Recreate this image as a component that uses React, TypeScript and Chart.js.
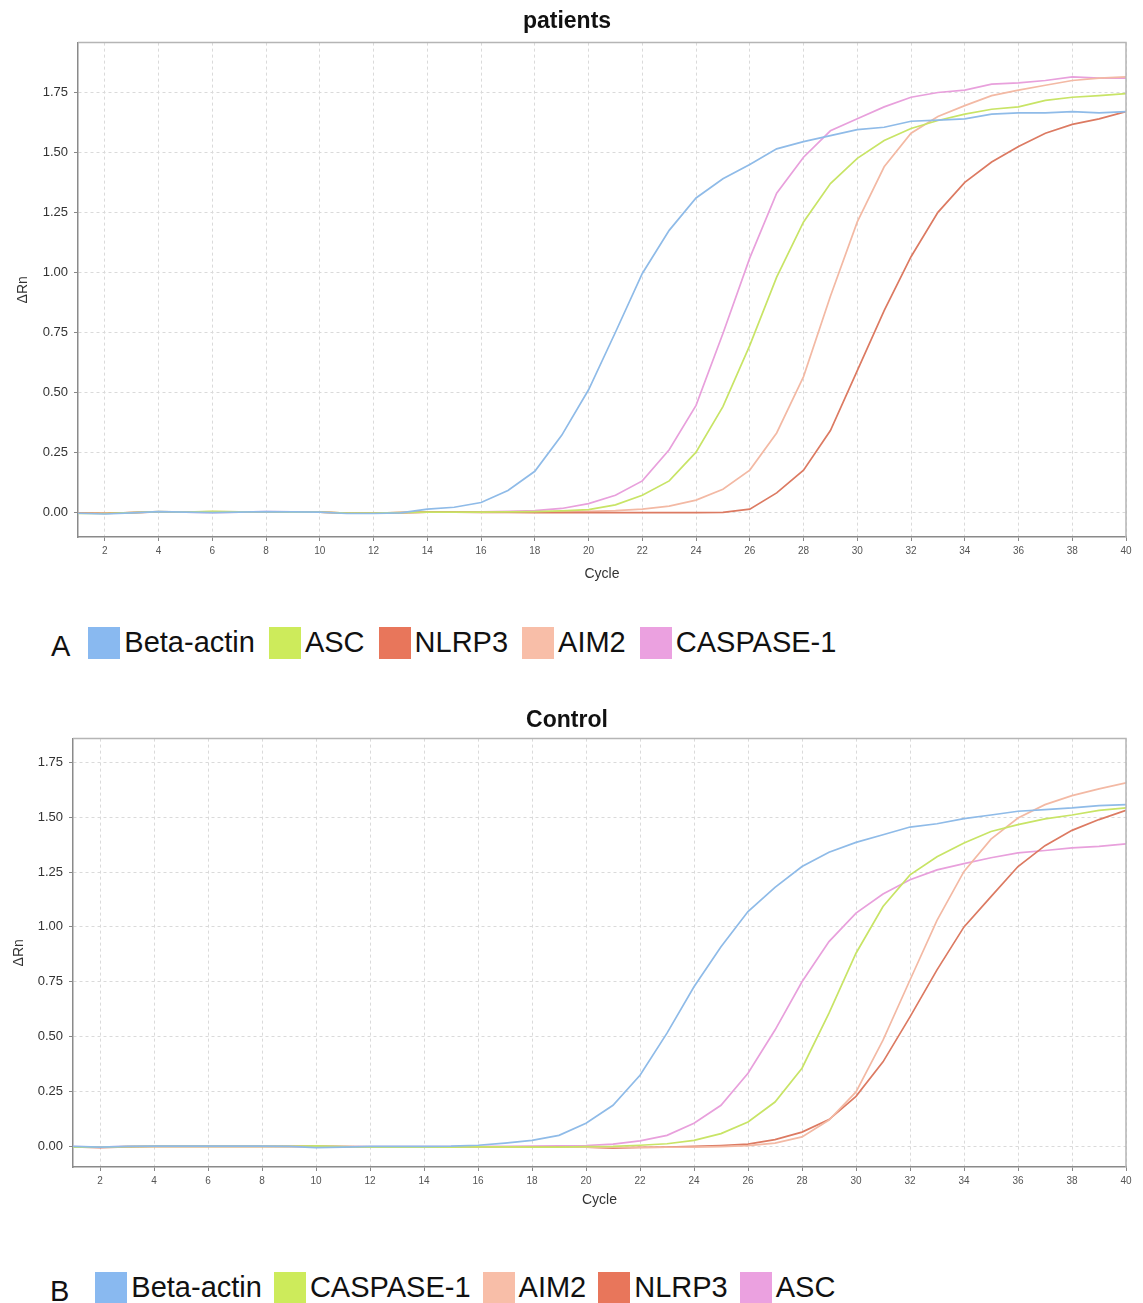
import React, { useEffect, useRef } from "react";
import { Chart, registerables } from "chart.js";

Chart.register(...registerables);

// ---------- data ----------
const cycles = [
  1, 2, 3, 4, 5, 6, 7, 8, 9, 10, 11, 12, 13, 14, 15, 16, 17, 18, 19, 20,
  21, 22, 23, 24, 25, 26, 27, 28, 29, 30, 31, 32, 33, 34, 35, 36, 37, 38, 39, 40,
];
const xTickValues = [2, 4, 6, 8, 10, 12, 14, 16, 18, 20, 22, 24, 26, 28, 30, 32, 34, 36, 38, 40];
const yTickValues = [0, 0.25, 0.5, 0.75, 1.0, 1.25, 1.5, 1.75];

const patientsTitle = "patients";
const controlTitle = "Control";
const xAxisTitle = "Cycle";
const yAxisTitle = "ΔRn";

// Patients (A)
const patientsLabels = ["Beta-actin", "ASC", "NLRP3", "AIM2", "CASPASE-1"];
const patientsBeta = [
  -0.005, -0.008, -0.003, 0.002, 0.0, -0.002, 0.0, 0.002, 0.001, 0.0,
  -0.006, -0.006, -0.003, 0.012, 0.02, 0.04, 0.09, 0.17, 0.32, 0.51,
  0.75, 0.995, 1.175, 1.31, 1.39, 1.45, 1.515, 1.545, 1.57, 1.595,
  1.605, 1.63, 1.635, 1.64, 1.66, 1.665, 1.665, 1.67, 1.665, 1.67,
];
const patientsAsc = [
  -0.006, -0.006, -0.002, 0.002, 0.0, 0.003, 0.001, 0.001, 0.0, 0.0,
  -0.004, -0.004, -0.002, 0.0, 0.0, 0.0, 0.001, 0.002, 0.005, 0.01,
  0.03, 0.07, 0.13, 0.25, 0.44, 0.695, 0.98, 1.21, 1.37, 1.475,
  1.55, 1.6, 1.633, 1.66, 1.68, 1.69, 1.717, 1.73, 1.737, 1.745,
];
const patientsNlrp3 = [
  -0.004, -0.005, -0.002, 0.001, 0.0, 0.001, 0.001, 0.001, 0.0, 0.0,
  -0.004, -0.004, -0.002, 0.0, 0.0, -0.001, -0.001, -0.002, -0.002, -0.002,
  -0.002, -0.002, -0.002, -0.002, -0.001, 0.012, 0.08, 0.175, 0.34, 0.59,
  0.84, 1.065, 1.25, 1.375, 1.46, 1.525, 1.58, 1.617, 1.64, 1.67,
];
const patientsAim2 = [
  -0.004, -0.005, -0.002, 0.001, 0.0, 0.002, 0.001, 0.001, 0.0, 0.0,
  -0.004, -0.004, -0.002, 0.0, 0.0, 0.0, 0.0, 0.001, 0.002, 0.003,
  0.006, 0.012, 0.025, 0.05, 0.095, 0.175, 0.33, 0.565, 0.9, 1.21,
  1.44, 1.58, 1.65, 1.695, 1.737, 1.76, 1.78, 1.8, 1.81, 1.815,
];
const patientsCasp = [
  -0.004, -0.006, -0.002, 0.002, 0.0, -0.002, 0.0, 0.002, 0.001, 0.0,
  -0.005, -0.005, -0.002, 0.0, 0.0, 0.001, 0.003, 0.006, 0.015, 0.035,
  0.07, 0.13, 0.26, 0.445, 0.745, 1.06, 1.33, 1.48, 1.59, 1.64,
  1.69, 1.73, 1.75, 1.76, 1.785, 1.79, 1.8, 1.815, 1.81, 1.81,
];

// Control (B)
const controlLabels = ["Beta-actin", "CASPASE-1", "AIM2", "NLRP3", "ASC"];
const controlBeta = [
  0.0, -0.003, 0.0, 0.001, 0.001, 0.001, 0.001, 0.001, 0.0, -0.006,
  -0.003, 0.0, 0.0, 0.0, 0.001, 0.005, 0.015, 0.027, 0.05, 0.105,
  0.187, 0.324, 0.516, 0.727, 0.91, 1.07, 1.18, 1.275, 1.34, 1.385,
  1.42, 1.455, 1.47, 1.493, 1.51, 1.527, 1.534, 1.542, 1.553, 1.557,
];
const controlCasp = [
  -0.003, -0.004, -0.001, 0.0, 0.0, 0.0, 0.0, 0.0, 0.0, 0.002,
  -0.001, -0.003, -0.004, -0.004, -0.003, -0.002, -0.002, -0.003, -0.003, -0.001,
  0.0, 0.005, 0.012, 0.027, 0.058, 0.111, 0.202, 0.356, 0.607, 0.88,
  1.093, 1.237, 1.32, 1.382, 1.435, 1.466, 1.492, 1.51, 1.531, 1.542,
];
const controlAim2 = [
  -0.002, -0.004, -0.001, 0.0, 0.0, 0.0, 0.0, 0.0, 0.0, 0.0,
  -0.001, -0.002, -0.002, -0.002, -0.002, -0.002, -0.003, -0.004, -0.004, -0.004,
  -0.005, -0.005, -0.004, -0.003, -0.001, 0.003, 0.015, 0.043, 0.12, 0.248,
  0.484, 0.758, 1.03, 1.253, 1.4, 1.496, 1.557, 1.598, 1.629, 1.656,
];
const controlNlrp3 = [
  -0.002, -0.006, -0.002, 0.0, 0.0, 0.0, 0.0, 0.0, 0.0, 0.0,
  -0.001, -0.002, -0.002, -0.002, -0.002, -0.002, -0.003, -0.003, -0.003, -0.004,
  -0.008, -0.005, -0.003, 0.0, 0.004, 0.01, 0.031, 0.065, 0.122, 0.228,
  0.385, 0.59, 0.804, 1.0, 1.138, 1.275, 1.37, 1.44, 1.489, 1.531,
];
const controlAsc = [
  -0.001, -0.003, 0.0, 0.0, 0.0, 0.0, 0.0, 0.0, 0.0, 0.0,
  -0.001, -0.001, -0.001, -0.001, -0.001, 0.0, 0.0, 0.001, 0.002, 0.004,
  0.01, 0.025, 0.05, 0.105, 0.187, 0.333, 0.53, 0.75, 0.933, 1.063,
  1.15, 1.215, 1.26, 1.288, 1.315, 1.337, 1.348, 1.36, 1.367, 1.378,
];

// ---------- styles ----------
const FONT = "'Liberation Sans', Arial, Helvetica, sans-serif";
const LINE_BLUE = "#8fbbe8";
const LINE_GREEN = "#c8e466";
const LINE_RED = "#dc7a62";
const LINE_SALMON = "#f3b9a4";
const LINE_PINK = "#e8a0dc";
const BOX_BLUE = "#89b9f0";
const BOX_GREEN = "#cdeb5b";
const BOX_RED = "#e8765b";
const BOX_SALMON = "#f8bea8";
const BOX_PINK = "#eba1e0";

const patientsSeries = [
  { label: patientsLabels[0], values: patientsBeta, line: LINE_BLUE, box: BOX_BLUE },
  { label: patientsLabels[1], values: patientsAsc, line: LINE_GREEN, box: BOX_GREEN },
  { label: patientsLabels[2], values: patientsNlrp3, line: LINE_RED, box: BOX_RED },
  { label: patientsLabels[3], values: patientsAim2, line: LINE_SALMON, box: BOX_SALMON },
  { label: patientsLabels[4], values: patientsCasp, line: LINE_PINK, box: BOX_PINK },
];
const controlSeries = [
  { label: controlLabels[0], values: controlBeta, line: LINE_BLUE, box: BOX_BLUE },
  { label: controlLabels[1], values: controlCasp, line: LINE_GREEN, box: BOX_GREEN },
  { label: controlLabels[2], values: controlAim2, line: LINE_SALMON, box: BOX_SALMON },
  { label: controlLabels[3], values: controlNlrp3, line: LINE_RED, box: BOX_RED },
  { label: controlLabels[4], values: controlAsc, line: LINE_PINK, box: BOX_PINK },
];

const frameBox = {
  id: "frameBox",
  afterDraw(chart: any) {
    const { ctx, chartArea } = chart;
    ctx.save();
    ctx.strokeStyle = "#b5b5b5";
    ctx.lineWidth = 1.5;
    ctx.beginPath();
    ctx.moveTo(chartArea.left, chartArea.top);
    ctx.lineTo(chartArea.right, chartArea.top);
    ctx.lineTo(chartArea.right, chartArea.bottom);
    ctx.stroke();
    ctx.restore();
  },
};

type Cfg = {
  title: string;
  series: typeof patientsSeries;
  yMin: number;
  yMax: number;
  width: number;
  height: number;
  yAxisWidth: number;
  xAxisHeight: number;
  titlePadTop: number;
  titlePadBottom: number;
  leftPad: number;
  rightPad: number;
  yTitlePad: number;
  xTitlePad: number;
};

function QpcrChart(props: Cfg) {
  const ref = useRef<HTMLCanvasElement | null>(null);
  useEffect(() => {
    if (!ref.current) return;
    const chart = new Chart(ref.current, {
      type: "line",
      data: {
        datasets: props.series.map((s) => ({
          label: s.label,
          data: cycles.map((c, i) => ({ x: c, y: s.values[i] })),
          borderColor: s.line,
          backgroundColor: s.line,
          borderWidth: 1.7,
          pointRadius: 0,
          tension: 0,
          fill: false,
        })),
      },
      options: {
        animation: false,
        responsive: false,
        devicePixelRatio: 1,
        layout: { padding: { left: props.leftPad, right: props.rightPad, top: 0, bottom: 0 } },
        plugins: {
          legend: { display: false },
          tooltip: { enabled: false },
          title: {
            display: true,
            text: props.title,
            color: "#111",
            font: { family: FONT, size: 23, weight: "bold" },
            padding: { top: props.titlePadTop, bottom: props.titlePadBottom },
          },
        },
        scales: {
          x: {
            type: "linear",
            min: 1,
            max: 40,
            afterBuildTicks: (scale: any) => {
              scale.ticks = xTickValues.map((v) => ({ value: v }));
            },
            afterFit: (scale: any) => {
              scale.height = props.xAxisHeight;
            },
            ticks: {
              color: "#555",
              font: { family: FONT, size: 10 },
              padding: 4,
              maxRotation: 0,
              callback: (v: any) => String(v),
            },
            grid: { color: "#dadada", tickColor: "#888", tickLength: 4, lineWidth: 1 },
            border: { display: true, color: "#8a8a8a", width: 1.5, dash: [3, 3] },
            title: {
              display: true,
              text: xAxisTitle,
              color: "#333",
              font: { family: FONT, size: 14 },
              padding: { top: 0, bottom: props.xTitlePad },
            },
          },
          y: {
            type: "linear",
            min: props.yMin,
            max: props.yMax,
            afterBuildTicks: (scale: any) => {
              scale.ticks = yTickValues.map((v) => ({ value: v }));
            },
            afterFit: (scale: any) => {
              scale.width = props.yAxisWidth;
            },
            ticks: {
              color: "#333",
              font: { family: FONT, size: 13 },
              padding: 6,
              callback: (v: any) => Number(v).toFixed(2),
            },
            grid: { color: "#dadada", tickColor: "#888", tickLength: 4, lineWidth: 1 },
            border: { display: true, color: "#8a8a8a", width: 1.5, dash: [3, 3] },
            title: {
              display: true,
              text: yAxisTitle,
              color: "#333",
              font: { family: FONT, size: 14 },
              padding: { top: props.yTitlePad, bottom: 0 },
            },
          },
        },
      } as any,
      plugins: [frameBox],
    });
    return () => chart.destroy();
  }, []);
  return <canvas ref={ref} width={props.width} height={props.height} style={{ display: "block" }} />;
}

function Legend(props: {
  letter: string;
  series: typeof patientsSeries;
  letterGap: number;
  textGap: number;
  itemGap: number;
}) {
  return (
    <div
      style={{
        display: "flex",
        alignItems: "center",
        fontFamily: FONT,
        fontSize: 29,
        color: "#111",
        whiteSpace: "nowrap",
      }}
    >
      <span style={{ position: "relative", top: 4, marginRight: props.letterGap }}>{props.letter}</span>
      {props.series.map((s) => (
        <span key={s.label} style={{ display: "flex", alignItems: "center", marginRight: props.itemGap }}>
          <span
            style={{ display: "inline-block", width: 32, height: 32, background: s.box, marginRight: props.textGap }}
          />
          <span>{s.label}</span>
        </span>
      ))}
    </div>
  );
}

export default function App() {
  return (
    <div
      style={{
        position: "absolute",
        left: 0,
        top: 0,
        width: 1143,
        height: 1303,
        background: "#fff",
        overflow: "hidden",
      }}
    >
      <div style={{ position: "absolute", left: 0, top: 0 }}>
        <QpcrChart
          title={patientsTitle}
          series={patientsSeries}
          yMin={-0.104}
          yMax={1.958}
          width={1143}
          height={600}
          yAxisWidth={70}
          xAxisHeight={63}
          titlePadTop={8}
          titlePadBottom={7}
          leftPad={8}
          rightPad={17}
          yTitlePad={7}
          xTitlePad={17}
        />
      </div>
      <div style={{ position: "absolute", left: 51, top: 626 }}>
        <Legend letter="A" series={patientsSeries} letterGap={18} textGap={4} itemGap={14} />
      </div>
      <div style={{ position: "absolute", left: 0, top: 690 }}>
        <QpcrChart
          title={controlTitle}
          series={controlSeries}
          yMin={-0.094}
          yMax={1.858}
          width={1143}
          height={530}
          yAxisWidth={65}
          xAxisHeight={53}
          titlePadTop={17}
          titlePadBottom={4}
          leftPad={8}
          rightPad={17}
          yTitlePad={3}
          xTitlePad={11}
        />
      </div>
      <div style={{ position: "absolute", left: 50, top: 1271 }}>
        <Legend letter="B" series={controlSeries} letterGap={26} textGap={4} itemGap={12} />
      </div>
    </div>
  );
}
